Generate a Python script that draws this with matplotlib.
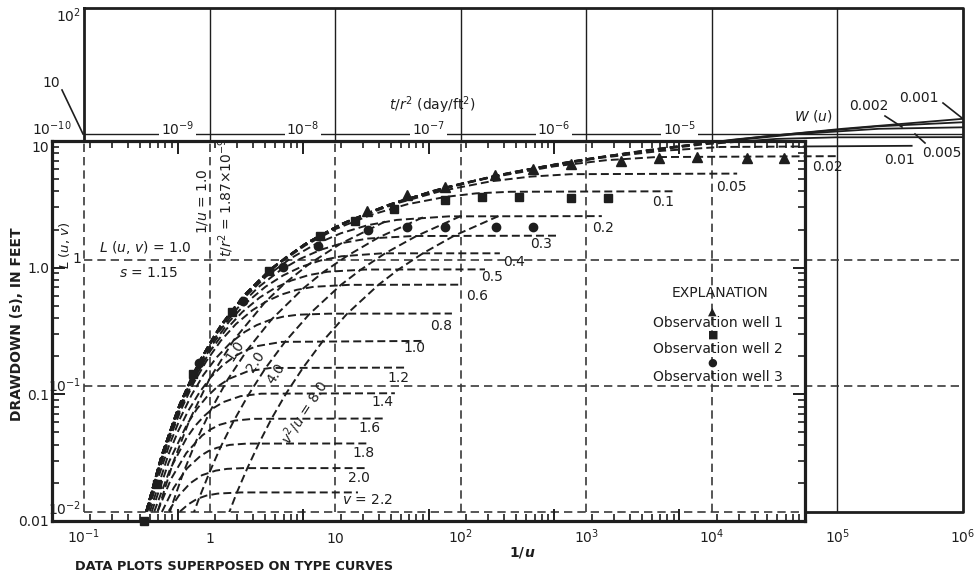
import matplotlib
matplotlib.use("Agg")
import matplotlib.pyplot as plt
from matplotlib.lines import Line2D
from matplotlib.patches import Rectangle
from matplotlib.ticker import NullFormatter, NullLocator
from matplotlib.transforms import Bbox

plt.rcParams["font.family"] = ["DejaVu Sans"]
plt.rcParams["mathtext.fontset"] = "dejavusans"
plt.rcParams["font.size"] = 10

W, H = 978, 581
ink = "#1e1e1e"

# observation wells: t/r^2 (day/ft^2) and drawdown s (ft)
well1_t = [3.24e-8, 6.75e-8, 1.35e-7, 3.39e-7, 6.81e-7, 1.36e-6, 3.42e-6, 6.87e-6, 1.38e-5, 3.45e-5, 6.81e-5]
well1_s = [2.79, 3.74, 4.32, 5.38, 6.00, 6.58, 6.94, 7.33, 7.47, 7.33, 7.33]
well2_t = [5.41e-10, 6.88e-10, 1.33e-9, 2.72e-9, 5.36e-9, 1.36e-8, 2.59e-8, 5.31e-8,
           1.35e-7, 2.67e-7, 5.26e-7, 1.36e-6, 2.69e-6]
well2_s = [0.0100, 0.0196, 0.146, 0.443, 0.935, 1.77, 2.33, 2.89, 3.41, 3.60, 3.60, 3.54, 3.54]
well3_t = [1.48e-9, 3.33e-9, 6.94e-9, 1.32e-8, 3.30e-8, 6.75e-8, 1.35e-7, 3.45e-7, 6.81e-7]
well3_s = [0.178, 0.541, 1.005, 1.47, 1.97, 2.08, 2.08, 2.08, 2.08]

# type curves L(u, v) vs 1/u  (v = 0 is W(u))
type_v = [0.0, 0.001, 0.002, 0.005, 0.01, 0.02, 0.05, 0.1, 0.2, 0.3, 0.4, 0.5, 0.6,
          0.8, 1.0, 1.2, 1.4, 1.6, 1.8, 2.0, 2.2]
type_inv_u = [
    [0.313, 0.417, 0.575, 0.822, 1.22, 1.88, 3.13, 5.62, 11, 24.3, 61, 180, 638, 2.82e3, 1.55e4, 1.1e5, 1e6],
    [0.313, 0.417, 0.575, 0.822, 1.23, 1.93, 3.2, 5.75, 11.2, 25.4, 66.8, 209, 794, 4.37e3, 3.05e4, 2.09e5, 1e6],
    [0.313, 0.422, 0.582, 0.832, 1.24, 1.95, 3.27, 5.89, 11.6, 27.9, 78.5, 269, 1.15e3, 7.24e3, 4.84e4, 2.14e5, 1e6],
    [0.313, 0.422, 0.582, 0.841, 1.26, 2, 3.39, 6.17, 12.4, 32.4, 101, 403, 2e3, 8.71e3, 3.24e4, 9.66e4, 1e6],
    [0.313, 0.417, 0.575, 0.822, 1.22, 1.91, 3.16, 5.69, 11.1, 27.5, 81.3, 295, 1.24e3, 3.98e3, 1.17e4, 3.9e5],
    [0.313, 0.412, 0.562, 0.794, 1.16, 1.78, 2.85, 4.9, 9.23, 20.9, 54.3, 166, 556, 1.43e3, 3.59e3, 9.9e4],
    [0.313, 0.407, 0.543, 0.75, 1.06, 1.57, 2.43, 3.98, 7, 13.8, 29.9, 70.8, 176, 359, 759, 1.59e4],
    [0.313, 0.403, 0.531, 0.724, 1.01, 1.46, 2.19, 3.47, 5.82, 10.2, 19.3, 37.6, 75.9, 133, 248, 4.9e3],
    [0.313, 0.398, 0.513, 0.676, 0.923, 1.29, 1.86, 2.82, 4.42, 6.92, 11.1, 18.2, 30.9, 80.4, 1.33e3],
    [0.316, 0.398, 0.507, 0.661, 0.881, 1.2, 1.68, 2.43, 3.63, 5.25, 7.76, 11.7, 18.2, 41.7, 594],
    [0.316, 0.389, 0.49, 0.624, 0.804, 1.06, 1.43, 1.97, 2.79, 3.85, 5.37, 7.67, 11.2, 23.7, 205],
    [0.32, 0.389, 0.484, 0.61, 0.776, 1.01, 1.35, 1.82, 2.51, 3.31, 4.47, 6.17, 8.71, 17.4, 156],
    [0.32, 0.385, 0.473, 0.589, 0.741, 0.944, 1.23, 1.62, 2.19, 2.82, 3.72, 4.95, 6.76, 12.9, 102],
    [0.327, 0.394, 0.473, 0.582, 0.716, 0.891, 1.14, 1.46, 1.91, 2.37, 2.99, 3.85, 5.07, 8.91, 85.1],
    [0.335, 0.468, 0.562, 0.676, 0.832, 1.02, 1.27, 1.6, 1.93, 2.37, 3.76, 51.9],
    [0.347, 0.473, 0.661, 0.794, 0.955, 1.16, 1.43, 2.02, 3.05, 37.3],
    [0.363, 0.484, 0.653, 0.767, 0.902, 1.07, 1.29, 1.76, 2.57, 29.9],
    [0.385, 0.495, 0.653, 0.871, 1.02, 1.2, 1.58, 2.24, 24],
    [0.417, 0.519, 0.661, 0.851, 0.977, 1.14, 1.45, 1.97, 18.9],
    [0.473, 0.569, 0.7, 0.871, 1.12, 1.38, 1.84, 18.3],
    [0.582, 0.676, 0.794, 0.944, 1.16, 1.78, 15.2],
]
type_L = [
    [0.0101, 0.0285, 0.0707, 0.154, 0.298, 0.524, 0.859, 1.32, 1.91, 2.65, 3.55, 4.62, 5.88, 7.37, 9.07, 11, 13.2],
    [0.0101, 0.0285, 0.0707, 0.154, 0.303, 0.538, 0.875, 1.34, 1.93, 2.7, 3.64, 4.77, 6.1, 7.8, 9.72, 11.5, 12.4],
    [0.0101, 0.0295, 0.0728, 0.158, 0.309, 0.544, 0.892, 1.36, 1.96, 2.79, 3.8, 5.02, 6.47, 8.28, 10, 11, 11.3],
    [0.0101, 0.0295, 0.0728, 0.161, 0.314, 0.558, 0.918, 1.4, 2.02, 2.93, 4.05, 5.41, 6.97, 8.29, 9.14, 9.41, 9.44],
    [0.0101, 0.0285, 0.0707, 0.154, 0.298, 0.531, 0.867, 1.33, 1.92, 2.77, 3.83, 5.08, 6.43, 7.35, 7.89, 8.06],
    [0.0101, 0.0274, 0.0667, 0.144, 0.278, 0.49, 0.792, 1.2, 1.75, 2.5, 3.42, 4.48, 5.54, 6.19, 6.56, 6.67],
    [0.0101, 0.0264, 0.061, 0.128, 0.241, 0.42, 0.68, 1.04, 1.5, 2.09, 2.79, 3.54, 4.22, 4.59, 4.8, 4.85],
    [0.0101, 0.0254, 0.0573, 0.119, 0.222, 0.382, 0.608, 0.919, 1.31, 1.77, 2.28, 2.77, 3.17, 3.38, 3.48, 3.51],
    [0.01, 0.0242, 0.0516, 0.101, 0.186, 0.314, 0.495, 0.739, 1.03, 1.33, 1.63, 1.89, 2.08, 2.22, 2.23],
    [0.0104, 0.0238, 0.0491, 0.0939, 0.166, 0.273, 0.418, 0.605, 0.824, 1.02, 1.21, 1.37, 1.48, 1.55, 1.56],
    [0.0102, 0.0216, 0.0435, 0.0798, 0.135, 0.215, 0.324, 0.46, 0.614, 0.754, 0.883, 0.992, 1.07, 1.13, 1.13],
    [0.0104, 0.021, 0.0407, 0.0727, 0.12, 0.189, 0.28, 0.386, 0.504, 0.599, 0.687, 0.759, 0.807, 0.84, 0.842],
    [0.0101, 0.0196, 0.0367, 0.0639, 0.104, 0.158, 0.229, 0.31, 0.399, 0.468, 0.531, 0.58, 0.613, 0.635, 0.637],
    [0.0103, 0.0193, 0.0331, 0.0552, 0.0843, 0.122, 0.169, 0.219, 0.269, 0.304, 0.333, 0.355, 0.368, 0.375, 0.376],
    [0.0101, 0.0282, 0.0439, 0.0635, 0.0892, 0.117, 0.146, 0.173, 0.191, 0.207, 0.224, 0.228],
    [0.0101, 0.0248, 0.0496, 0.0659, 0.0825, 0.0991, 0.114, 0.131, 0.139, 0.14],
    [0.0101, 0.0218, 0.0384, 0.0482, 0.0576, 0.0667, 0.0746, 0.083, 0.0869, 0.0876],
    [0.0101, 0.0184, 0.0294, 0.0404, 0.0453, 0.0492, 0.0531, 0.0549, 0.0552],
    [0.01, 0.0156, 0.0222, 0.028, 0.0304, 0.0323, 0.0341, 0.0349, 0.035],
    [0.0102, 0.0135, 0.0169, 0.0196, 0.0213, 0.022, 0.0223, 0.0223],
    [0.0101, 0.0115, 0.0127, 0.0135, 0.014, 0.0143, 0.0143],
]

# lines of equal v^2/u crossing the family
locus_c = [1.0, 2.0, 4.0, 8.0]
locus_inv_u = [
    [25, 11.1, 6.25, 4, 2.78, 1.56, 1, 0.694, 0.51, 0.391, 0.309, 0.25],
    [50, 22.2, 12.5, 8, 5.56, 3.12, 2, 1.39, 1.02, 0.781, 0.617, 0.5, 0.413],
    [100, 44.4, 25, 16, 11.1, 6.25, 4, 2.78, 2.04, 1.56, 1.23, 1, 0.826, 0.694],
    [200, 88.9, 50, 32, 22.2, 12.5, 8, 5.56, 4.08, 3.12, 2.47, 2, 1.65, 1.39],
]
locus_L = [
    [2.02, 1.35, 0.934, 0.657, 0.465, 0.232, 0.114, 0.0539, 0.0244, 0.0105, 0.00427, 0.00163],
    [2.18, 1.51, 1.08, 0.798, 0.594, 0.338, 0.194, 0.112, 0.0643, 0.0365, 0.0204, 0.0112, 0.00599],
    [2.23, 1.55, 1.13, 0.838, 0.634, 0.373, 0.225, 0.138, 0.0851, 0.053, 0.0331, 0.0207, 0.0129, 0.00806],
    [2.23, 1.56, 1.13, 0.842, 0.637, 0.376, 0.228, 0.14, 0.0876, 0.0552, 0.035, 0.0223, 0.0143, 0.00917],
]

decades = [0.1, 1, 10, 100, 1e3, 1e4, 1e5, 1e6]
decade_labels = ["$10^{-1}$", "$1$", "$10$", "$10^{2}$", "$10^{3}$", "$10^{4}$", "$10^{5}$", "$10^{6}$"]
tr2_ticks = [1e-10, 1e-9, 1e-8, 1e-7, 1e-6, 1e-5, 1e-4]
tr2_labels = ["$10^{-10}$", "$10^{-9}$", "$10^{-8}$", "$10^{-7}$", "$10^{-6}$", "$10^{-5}$", ""]
s_ticks = [0.01, 0.1, 1, 10]
s_labels = ["0.01", "0.1", "1.0", "10"]

fig = plt.figure(figsize=(W / 100, H / 100), dpi=100)
ax_t = fig.add_axes([84 / W, 1 - 512 / H, 879 / W, 504 / H])   # type-curve sheet
ax_d = fig.add_axes([52 / W, 1 - 521 / H, 753 / W, 380 / H])   # data sheet
ax_t.set_zorder(1)
ax_d.set_zorder(2)
ax_d.set_facecolor("none")

ax_t.set_xscale("log"); ax_t.set_yscale("log")
ax_t.set_xlim(0.1, 1e6); ax_t.set_ylim(0.01, 100)
for s in ax_t.spines.values():
    s.set_visible(False)

dash_kw = dict(color=ink, lw=1.4, dashes=(4.1, 2.1))
grid_kw = dict(color="#3a3a3a", lw=1.2, dashes=(5, 3))
inner = Bbox.intersection(ax_d.bbox, ax_t.bbox)

# solid parts (only seen outside the data sheet)
for x in decades[1:-1]:
    ax_t.plot([x, x], [0.01, 100], color=ink, lw=1.0, zorder=1)
ax_t.plot([0.1, 1e6], [10, 10], color=ink, lw=1.0, zorder=1)
ax_t.plot([0.1, 1e6, 1e6, 0.1, 0.1], [100, 100, 0.01, 0.01, 100], color=ink, lw=2.0,
          zorder=1, clip_on=False)
for v, xs, ys in zip(type_v, type_inv_u, type_L):
    if v <= 0.01:
        ax_t.plot(xs, ys, color=ink, lw=1.3, zorder=1)

# the data sheet hides the type sheet below it
ax_t.add_patch(Rectangle((0, 0), 1, 1, transform=ax_d.transAxes, fc="white", ec="none",
                         zorder=1.5, clip_on=False))

# dashed parts seen through the data sheet
for x in decades[:-2]:
    ln, = ax_t.plot([x, x], [0.01, 100], zorder=2, **grid_kw)
    ln.set_clip_box(ax_d.bbox)
ln, = ax_t.plot([0.1, 1e6], [0.01, 0.01], zorder=2, **grid_kw)
ln.set_clip_box(ax_d.bbox)
for y in [0.1, 1]:
    ax_t.plot([0.1, 1e6], [y, y], zorder=2, clip_on=False, **grid_kw)

for v, xs, ys in zip(type_v, type_inv_u, type_L):
    ln, = ax_t.plot(xs, ys, zorder=2, **dash_kw)
    if v != 0.02:
        ln.set_clip_box(ax_d.bbox)
for xs, ys in zip(locus_inv_u, locus_L):
    ln, = ax_t.plot(xs, ys, zorder=2, **dash_kw)
    ln.set_clip_box(inner)

ax_t.set_yticks([])
ax_t.yaxis.set_minor_locator(NullLocator())
ax_t.xaxis.set_minor_locator(NullLocator())
ax_t.set_xticks(decades, labels=decade_labels)
ax_t.tick_params(axis="x", length=0, pad=22, labelsize=10, labelcolor=ink)
for lab in ax_t.get_xticklabels():
    lab.set_va("baseline")

# data sheet
ax_d.set_xscale("log"); ax_d.set_yscale("log")
ax_d.set_xlim(1e-10, 1e-4); ax_d.set_ylim(0.01, 10)
ax_d.set_xticks(tr2_ticks, labels=tr2_labels)
ax_d.set_yticks(s_ticks, labels=s_labels)
ax_d.xaxis.set_minor_formatter(NullFormatter())
ax_d.yaxis.set_minor_formatter(NullFormatter())
ax_d.tick_params(which="both", direction="in", top=True, bottom=True, left=True, right=True,
                 labeltop=True, labelbottom=False, color=ink, labelcolor=ink, labelsize=10)
ax_d.tick_params(which="major", length=9, width=1.4)
ax_d.tick_params(which="minor", length=5, width=1.2)
ax_d.tick_params(axis="x", pad=2)
ax_d.tick_params(axis="y", pad=2)
for s in ax_d.spines.values():
    s.set_linewidth(2.3)
    s.set_color(ink)
for tk in ax_d.xaxis.get_major_ticks():
    tk.label2.set_bbox(dict(fc="white", ec="none", pad=1))
ax_d.get_yticklabels()[-1].set_va("top")

ax_d.plot(well1_t, well1_s, "^", ms=6.5, color=ink, clip_on=False, zorder=5)
ax_d.plot(well2_t, well2_s, "s", ms=6, color=ink, clip_on=False, zorder=5)
ax_d.plot(well3_t, well3_s, "o", ms=6, color=ink, clip_on=False, zorder=5)


def tx(x, y, s, **kw):
    kw.setdefault("ha", "center")
    kw.setdefault("va", "center")
    kw.setdefault("color", ink)
    fig.text(x / W, 1 - y / H, s, **kw)


def pl(x0, y0, x1, y1):
    fig.add_artist(Line2D([x0 / W, x1 / W], [1 - y0 / H, 1 - y1 / H], color=ink, lw=1.2))


# type sheet axis labels
tx(69, 16, "$10^{2}$")
tx(51, 83, "10")
pl(62, 90, 83, 134)
tx(81, 259, "1", ha="right")
tx(81, 386, "$10^{-1}$", ha="right")
tx(81, 509, "$10^{-2}$", ha="right")
tx(64, 245, "$L$ ($u$, $v$)", rotation=90, fontsize=9.5)

tx(432, 105, "$t/r^2$ (day/ft$^2$)")
tx(813, 116, "$W$ ($u$)")

type_label_xy = [None, (919, 98), (869, 106), (942, 153), (900, 160), (827, 167), (731, 187),
                 (663, 202), (603, 228), (541, 244), (514, 262), (492, 277), (477, 296),
                 (441, 326), (414, 348), (398, 378), (382, 402), (370, 428), (364, 453),
                 (359, 478), (367, 500)]
for v, xy in zip(type_v, type_label_xy):
    if xy is None:
        continue
    s = f"{v:.1f}" if v >= 0.8 else f"{v:g}"
    if v == 2.2:
        s = "$v$ = " + s
    tx(xy[0], xy[1], s)
pl(943, 103, 962, 118)
pl(885, 116, 902, 127)
pl(925, 143, 915, 134)

locus_label_xy = [(235, 351), (256, 362), (276, 374), (304, 412)]
for c, xy in zip(locus_c, locus_label_xy):
    s = f"{c:.1f}"
    if c == 8.0:
        s = "$v^2/u$ = " + s
    tx(xy[0], xy[1], s, rotation=57)

# match point
tx(145, 248, "$L$ ($u$, $v$) = 1.0")
tx(149, 273, "$s$ = 1.15")
tx(202, 201, "1/$u$ = 1.0", rotation=90)
tx(226, 197, "$t/r^2$ = 1.87×10$^{-9}$", rotation=90)

# explanation
tx(720, 293, "EXPLANATION")
tx(712, 312, "▲", fontsize=8)
tx(718, 323, "Observation well 1")
tx(713, 335, "■", fontsize=8)
tx(718, 349, "Observation well 2")
tx(712, 363, "●", fontsize=8)
tx(718, 377, "Observation well 3")

tx(17, 324, "DRAWDOWN (s), IN FEET", rotation=90, fontweight="bold")
tx(524, 553, "1/", fontweight="bold", ha="right")
tx(524, 553, "u", fontweight="bold", style="italic", ha="left")
tx(75, 567, "DATA PLOTS SUPERPOSED ON TYPE CURVES", fontweight="bold", ha="left",
   fontsize=9.3)

fig.savefig("out.png", dpi=100, facecolor="white")
